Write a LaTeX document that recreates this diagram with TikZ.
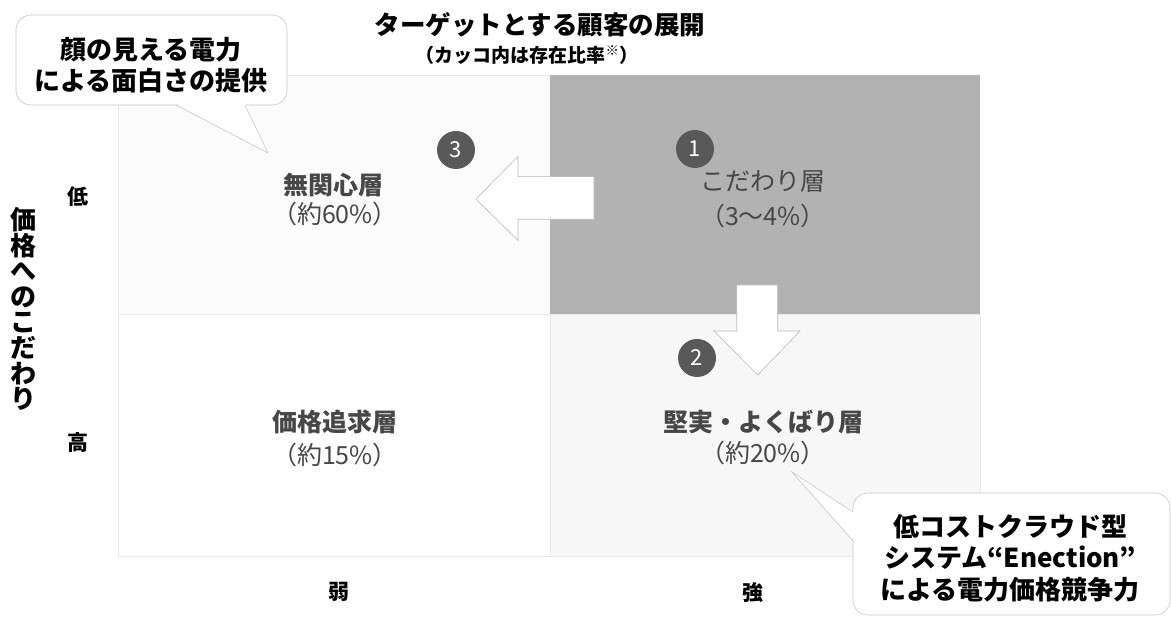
\documentclass[tikz,border=0pt]{standalone}
\usepackage{fontspec}
\setmainfont{Noto Sans CJK JP}
\begin{document}
\begin{tikzpicture}[x=1pt,y=-1pt,
  titlefont/.style={font=\fontsize{25.5}{30}\selectfont\bfseries, inner sep=0},
  subfont/.style={font=\fontsize{19}{22}\selectfont\bfseries, inner sep=0},
  callfont/.style={font=\fontsize{26}{31}\selectfont\bfseries, align=center, inner sep=0},
  call2font/.style={font=\fontsize{26}{31.5}\selectfont\bfseries, align=center, inner sep=0},
  quadname/.style={font=\fontsize{25}{30}\selectfont\bfseries, text=black!72, inner sep=0},
  quadthin/.style={font=\fontsize{25}{30}\selectfont, text=black!72, inner sep=0},
  axisfont/.style={font=\fontsize{21}{24}\selectfont\bfseries, inner sep=0},
  numdot/.style={circle, fill=black!65, text=white, minimum size=38pt, inner sep=0,
    font=\fontsize{22}{22}\selectfont},
  fatarrow/.style={fill=white, draw=gray!55, line width=0.6pt, line join=miter},
  callbox/.style={draw=gray!45, line width=0.6pt, fill=white, rounded corners=15pt},
  quadline/.style={draw=gray!18, line width=0.5pt}
]
\useasboundingbox (0,0) rectangle (1171,617);
\fill[white] (0,0) rectangle (1171,617);

% quadrants
\path[quadline, fill=gray!3] (118,75) rectangle (550,314);
\path[quadline, fill=gray!1] (118,314) rectangle (550,556);
\path[quadline, fill=gray!6] (550,314) rectangle (980,556);
\fill[gray!60] (550,75) rectangle (980,314);

% arrows
\draw[fatarrow] (594,176.7) -- (518,176.7) -- (518,156.5) -- (476,199) -- (518,240.5)
  -- (518,219.3) -- (594,219.3) -- cycle;
\draw[fatarrow] (736.7,285) -- (777.7,285) -- (777.7,331) -- (800,331) -- (757.7,375)
  -- (714,331) -- (736.7,331) -- cycle;

% number badges
\node[numdot] (n1) at (695,149) {1};
\node[numdot] (n2) at (697,358) {2};
\node[numdot] (n3) at (456,150) {3};

% quadrant labels
\node[quadname] (q3a) at (333,185) {無関心層};
\node[quadthin] (q3b) at (335,214) {（約60\%）};
\node[quadthin] (q1a) at (763,182) {こだわり層};
\node[quadthin] (q1b) at (763,216) {（3〜4\%）};
\node[quadname] (q4a) at (335,422) {価格追求層};
\node[quadthin] (q4b) at (335,455) {（約15\%）};
\node[quadname] (q2a) at (763,422) {堅実・よくばり層};
\node[quadthin] (q2b) at (763,453) {（約20\%）};

% title
\node[titlefont] (title) at (540,25) {ターゲットとする顧客の展開};
\node[subfont] (subtitle) at (527,55) {（カッコ内は存在比率\textsuperscript{※}）};

% axes
\node[font=\fontsize{26}{25.6}\selectfont\bfseries, align=center, inner sep=0] (yaxis)
  at (23,309) {価\\格\\へ\\の\\こ\\だ\\わ\\り};
\node[axisfont] (lo) at (78,197) {低};
\node[axisfont] (hi) at (78,443) {高};
\node[axisfont] (weak) at (339,592) {弱};
\node[axisfont] (strong) at (753,593) {強};

% callout 1
\path[callbox] (16,15) rectangle (287,105);
\coordinate (t1) at (268,153);
\coordinate (b1a) at (176,105);
\coordinate (b1b) at (245,105);
\fill[white] (176,103.5) -- (t1) -- (245,103.5) -- cycle;
\draw[gray!45, line width=0.6pt] (b1a) -- (t1) -- (b1b);
\node[callfont] (c1) at (151,65) {顔の見える電力\\による面白さの提供};

% callout 2
\path[callbox] (853,493) rectangle (1170,615);
\coordinate (t2) at (792,472);
\coordinate (b2a) at (853,512);
\coordinate (b2b) at (853,541);
\fill[white] (854.5,512) -- (t2) -- (854.5,541) -- cycle;
\draw[gray!45, line width=0.6pt] (b2a) -- (t2) -- (b2b);
\node[call2font] (c2) at (1010,558) {低コストクラウド型\\システム“Enection”\\による電力価格競争力};
\end{tikzpicture}
\end{document}
